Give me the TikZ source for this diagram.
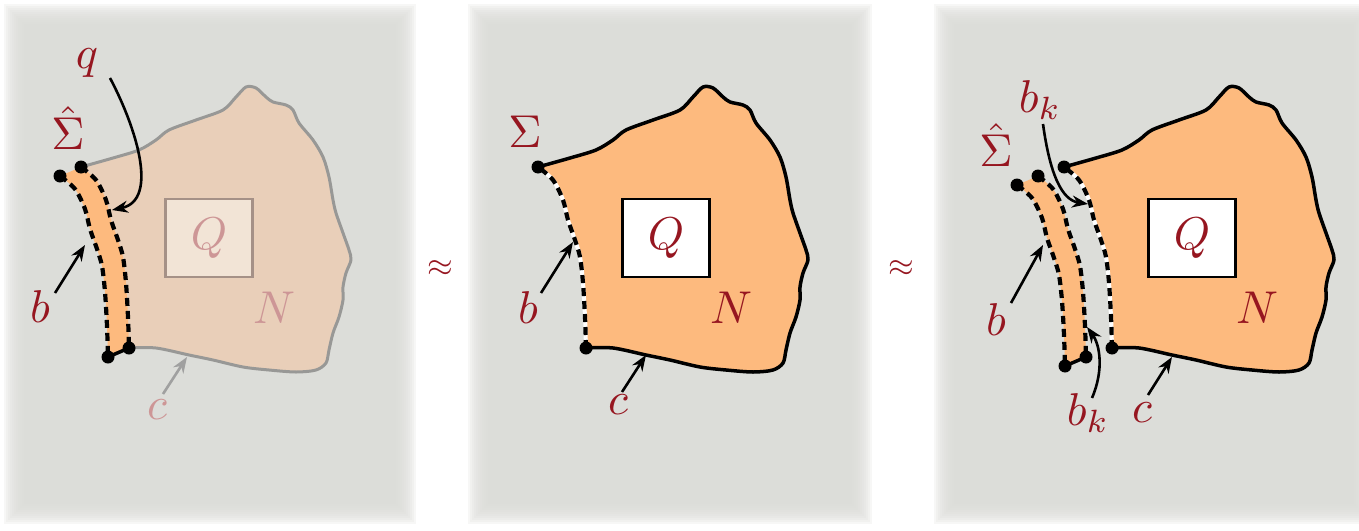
\documentclass[tikz,border=0pt]{standalone}
\usepackage{graphicx}
\usetikzlibrary{arrows.meta}
\definecolor{panelgray}{RGB}{220,221,217}
\definecolor{orangeN}{RGB}{253,186,126}
\definecolor{fadeN}{RGB}{233,207,185}
\definecolor{fadeline}{RGB}{152,152,150}
\definecolor{labred}{RGB}{150,22,32}
\definecolor{fadelab}{RGB}{205,150,150}
\definecolor{fadeQ}{RGB}{242,228,214}
\definecolor{fadeQline}{RGB}{165,145,135}
\definecolor{fadearrow}{RGB}{160,160,160}

\newcommand{\biglab}[1]{\scalebox{4.6}{$#1$}}

\newcommand{\Panel}[4]{%
  \foreach \i in {0,...,9}{\fill[panelgray,opacity=0.22] (#1+2*\i,#2+2*\i) rectangle (#3-2*\i,#4-2*\i);}
  \fill[panelgray] (#1+20,#2+20) rectangle (#3-20,#4-20);}

\newcommand{\Nregion}[1]{%
  \fill[#1] plot[smooth] coordinates {(538,167) (570,158) (596,150) (613,140) (626,130) (653,120) (680,110) (693,97) (703,87) (713,88) (723,97) (730,102) (743,105) (750,110) (756,123) (770,140) (780,157) (786,177) (790,200) (793,213) (800,233) (806,250) (808,260) (803,273) (800,287) (800,300) (796,317) (790,333) (786,350) (783,363) (773,370) (753,372) (726,370) (700,367) (670,360) (646,355) (613,348) (586,348)}
  -- plot[smooth] coordinates {(586,348) (585,317) (583,283) (580,257) (575,240) (568,220) (563,200) (553,180) (538,167)} -- cycle;}

\newcommand{\Nouter}[1]{%
  \draw[#1] plot[smooth] coordinates {(538,167) (570,158) (596,150) (613,140) (626,130) (653,120) (680,110) (693,97) (703,87) (713,88) (723,97) (730,102) (743,105) (750,110) (756,123) (770,140) (780,157) (786,177) (790,200) (793,213) (800,233) (806,250) (808,260) (803,273) (800,287) (800,300) (796,317) (790,333) (786,350) (783,363) (773,370) (753,372) (726,370) (700,367) (670,360) (646,355) (613,348) (586,348)};}

\newcommand{\Nbline}[1]{%
  \draw[#1] plot[smooth] coordinates {(586,348) (585,317) (583,283) (580,257) (575,240) (568,220) (563,200) (553,180) (538,167)};}

\newcommand{\Strip}{%
  \fill[orangeN] plot[smooth] coordinates {(538,167) (553,180) (563,200) (568,220) (575,240) (580,257) (583,283) (585,317) (586,348)}
  -- plot[smooth] coordinates {(565,357) (564,326) (562,292) (559,266) (554,249) (547,229) (542,209) (532,189) (517,176)} -- cycle;
  \draw[dashedge] plot[smooth] coordinates {(538,167) (553,180) (563,200) (568,220) (575,240) (580,257) (583,283) (585,317) (586,348)};
  \draw[dashedge] plot[smooth] coordinates {(517,176) (532,189) (542,209) (547,229) (554,249) (559,266) (562,292) (564,326) (565,357)};
  \draw[line width=3.5pt] (565,357) -- (586,348);
  \fill (538,167) circle[radius=6.5pt];
  \fill (517,176) circle[radius=6.5pt];
  \fill (586,348) circle[radius=6.5pt];
  \fill (565,357) circle[radius=6.5pt];}

\begin{document}
\begin{tikzpicture}[x=1pt,y=-1pt,
  lab/.style={text=labred,inner sep=0pt},
  outl/.style={line width=3.5pt,line join=round,line cap=round},
  dashedge/.style={line width=4.2pt,dash pattern=on 8pt off 5pt},
  arr/.style={line width=2.6pt,-{Stealth[length=16pt,width=12pt]}},
  qbox/.style={lab,draw=black,fill=white,line width=2.8pt,minimum width=87pt,minimum height=78pt}]

\fill[white] (0,0) rectangle (1359,530);
\useasboundingbox (0,0) rectangle (1359,530);

\Panel{4}{4}{416}{524}
\Panel{468}{4}{872}{524}
\Panel{934}{4}{1374}{524}

% ---------- panel 1 ----------
\begin{scope}[shift={(-457,0)}]
  \Nregion{fadeN}
  \Nouter{fadeline,outl,line width=3pt}
  \node[qbox,draw=fadeQline,fill=fadeQ,line width=2.4pt,text=fadelab] (Q1) at (666,238) {\biglab{Q}};
  \Strip
\end{scope}
\node[lab] (q1) at (87,63) {\biglab{q}};
\node[lab] (S1) at (68,128) {\biglab{\hat\Sigma}};
\node[lab] (b1) at (40,307) {\biglab{b}};
\node[lab,text=fadelab] (c1) at (157,410) {\biglab{c}};
\node[lab,text=fadelab] (N1) at (274,308) {\biglab{N}};
\coordinate (q1t) at (110,78);
\coordinate (q1h) at (112,210);
\draw[arr] (q1t) .. controls (135,125) and (160,200) .. (q1h);
\coordinate (b1t) at (55,293);
\coordinate (b1h) at (85,245);
\draw[arr] (b1t) -- (b1h);
\coordinate (c1t) at (163,394);
\coordinate (c1h) at (187,357);
\draw[arr,fadearrow] (c1t) -- (c1h);

\node[lab] (ap1) at (440,269) {\scalebox{3.3}{$\approx$}};

% ---------- panel 2 ----------
\Nregion{orangeN}
\Nbline{white,line width=4pt}
\Nbline{dashedge}
\Nouter{outl}
\fill (538,167) circle[radius=6.5pt];
\fill (586,348) circle[radius=6.5pt];
\node[qbox] (Q2) at (666,238) {\biglab{Q}};
\node[lab] (S2) at (525,132) {\biglab{\Sigma}};
\node[lab] (b2) at (528,308) {\biglab{b}};
\node[lab] (c2) at (618,405) {\biglab{c}};
\node[lab] (N2) at (731,308) {\biglab{N}};
\coordinate (b2t) at (541,293);
\coordinate (b2h) at (573,242);
\draw[arr] (b2t) -- (b2h);
\coordinate (c2t) at (622,392);
\coordinate (c2h) at (646,355);
\draw[arr] (c2t) -- (c2h);

\node[lab] (ap2) at (901,269) {\scalebox{3.3}{$\approx$}};

% ---------- panel 3 ----------
\begin{scope}[shift={(526,0)}]
  \Nregion{orangeN}
  \Nbline{white,line width=4pt}
  \Nbline{dashedge}
  \Nouter{outl}
  \fill (538,167) circle[radius=6.5pt];
  \fill (586,348) circle[radius=6.5pt];
  \node[qbox] (Q3) at (666,238) {\biglab{Q}};
\end{scope}
\begin{scope}[shift={(500,9)}]
  \Strip
\end{scope}
\node[lab] (bk3a) at (1040,100) {\biglab{b_k}};
\node[lab] (S3) at (996,145) {\biglab{\hat\Sigma}};
\node[lab] (b3) at (996,320) {\biglab{b}};
\node[lab] (bk3b) at (1088,413) {\biglab{b_k}};
\node[lab] (c3) at (1142,413) {\biglab{c}};
\node[lab] (N3) at (1257,308) {\biglab{N}};
\coordinate (bk3at) at (1043,124);
\coordinate (bk3ah) at (1088,204);
\draw[arr] (bk3at) .. controls (1050,175) and (1062,200) .. (bk3ah);
\coordinate (b3t) at (1011,303);
\coordinate (b3h) at (1043,245);
\draw[arr] (b3t) -- (b3h);
\coordinate (bk3bt) at (1092,398);
\coordinate (bk3bh) at (1087,327);
\draw[arr] (bk3bt) .. controls (1104,370) and (1100,345) .. (bk3bh);
\coordinate (c3t) at (1148,395);
\coordinate (c3h) at (1172,357);
\draw[arr] (c3t) -- (c3h);
\end{tikzpicture}
\end{document}
